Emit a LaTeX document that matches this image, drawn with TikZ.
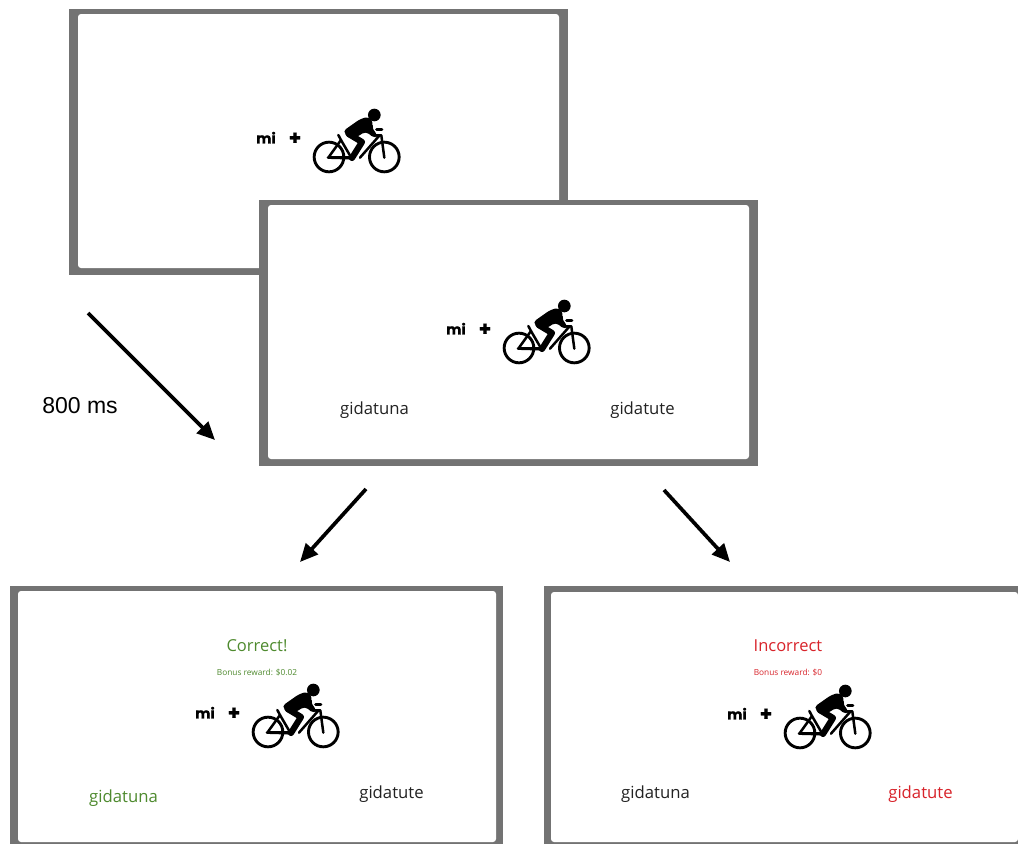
\documentclass[tikz,border=0pt]{standalone}
\usepackage{fontspec}
\setmainfont{Open Sans}
\newfontfamily\heavyfont[BoldFont={Poppins Bold},BoldFeatures={FakeBold=0.8}]{Poppins}
\newfontfamily\arialfont{Liberation Sans}
\usetikzlibrary{arrows.meta}
\definecolor{panelgrey}{HTML}{737373}
\definecolor{okgreen}{HTML}{4E8A2E}
\definecolor{badred}{HTML}{D8232A}
\definecolor{inkblack}{HTML}{222222}
\tikzset{
  flowarrow/.style={draw=black,line width=3.7pt,-{Triangle[length=18pt,width=16pt]}},
  word/.style={anchor=base,inner sep=0pt,font=\fontsize{16.7}{18}\selectfont,text=inkblack},
  bonus/.style={anchor=base,inner sep=0pt,font=\fontsize{8.3}{10}\selectfont},
  head/.style={anchor=base,inner sep=0pt,font=\fontsize{16.5}{18}\selectfont},
  cue/.style={inner sep=0pt,font=\heavyfont\bfseries\fontsize{14.5}{16}\selectfont,text=black},
  plusmark/.style={inner sep=0pt,font=\heavyfont\bfseries\fontsize{20}{22}\selectfont,text=black},
  wheel/.style={draw=black,line width=2.9pt},
  frame/.style={draw=black,line width=2.5pt,line cap=round,line join=round},
  limb/.style={draw=black,line cap=round,line join=round},
}
\newcommand{\panelbox}[4]{% left, top, right, bottom of the white area
  \fill[panelgrey] (#1-9,#2-5) rectangle (#3+9,#4+7);
  \fill[white,rounded corners=3pt] (#1,#2) rectangle (#3,#4);
}
\newcommand{\stimulus}[3]{%
  \begin{scope}[shift={(#2,#3)},x=0.3333pt,y=-0.3333pt]
    \node[cue] (#1mi) at (78,143) {mi};
    \node[plusmark] (#1plus) at (165,146) {+};
    \draw[wheel] (267,201) circle (44.5);
    \draw[wheel] (433,201) circle (44.5);
    \fill[black] (403,75) circle (19);
    \fill[black,rounded corners=4pt] (308,124) -- (362,86) -- (388,80) -- (400,98) -- (396,118) -- (415,134) -- (404,146) -- (378,124) -- (335,150) -- cycle;
    \draw[limb,line width=6.2pt] (326,132) -- (366,156) -- (336,204);
    \draw[frame] (265,203) -- (303,150) -- (335,205) -- cycle;
    \draw[frame,line width=3.2pt] (265,203) -- (335,203);
    \draw[frame] (295,135) -- (303,150);
    \draw[frame] (360,203) -- (418,137);
    \draw[frame] (405,136) -- (424,136) -- (433,203);
    \draw[limb,line width=3pt] (410,119) -- (426,119);
  \end{scope}
}
\begin{document}
\begin{tikzpicture}[x=1pt,y=-1pt]
  \useasboundingbox (0,0) rectangle (1018,844);
  \fill[white] (0,0) rectangle (1018,844);

  % panels
  \panelbox{78}{14}{559}{268}
  \stimulus{a}{240}{90}
  \panelbox{268}{205}{749}{459}
  \stimulus{b}{430}{281}
  \node[word] (bl) at (374.5,414) {gidatuna};
  \node[word] (br) at (642.5,414) {gidatute};

  \fill[panelgrey] (10,586) rectangle (503,844);
  \fill[white,rounded corners=3pt] (18,591) rectangle (496,842);
  \stimulus{c}{179}{665}
  \node[head,text=okgreen] (ch) at (257,651) {Correct!};
  \node[bonus,text=okgreen] (cb) at (257,675.5) {Bonus reward: \$0.02};
  \node[word,text=okgreen] (cl) at (123.5,802.5) {gidatuna};
  \node[word] (cr) at (391.5,798) {gidatute};

  \fill[panelgrey] (544,586) rectangle (1018,844);
  \fill[white,rounded corners=3pt] (551,592) -- (1018,592) -- (1018,842) -- (551,842) -- cycle;
  \stimulus{d}{711}{666}
  \node[head,text=badred] (dh) at (788,651) {Incorrect};
  \node[bonus,text=badred] (db) at (788,675.5) {Bonus reward: \$0};
  \node[word] (dl) at (655.5,798) {gidatuna};
  \node[word,text=badred] (dr) at (920.5,798) {gidatute};

  % connectors
  \coordinate (a1) at (88,313);
  \coordinate (a2) at (215,440);
  \coordinate (b1) at (366,489);
  \coordinate (b2) at (300,562);
  \coordinate (c1) at (664,490);
  \coordinate (c2) at (730,562);
  \draw[flowarrow] (a1) -- (a2);
  \draw[flowarrow] (b1) -- (b2);
  \draw[flowarrow] (c1) -- (c2);
  \node[anchor=base,inner sep=0pt,font=\arialfont\fontsize{23}{25}\selectfont,text=black] (delay) at (80,413) {800 ms};
\end{tikzpicture}
\end{document}
